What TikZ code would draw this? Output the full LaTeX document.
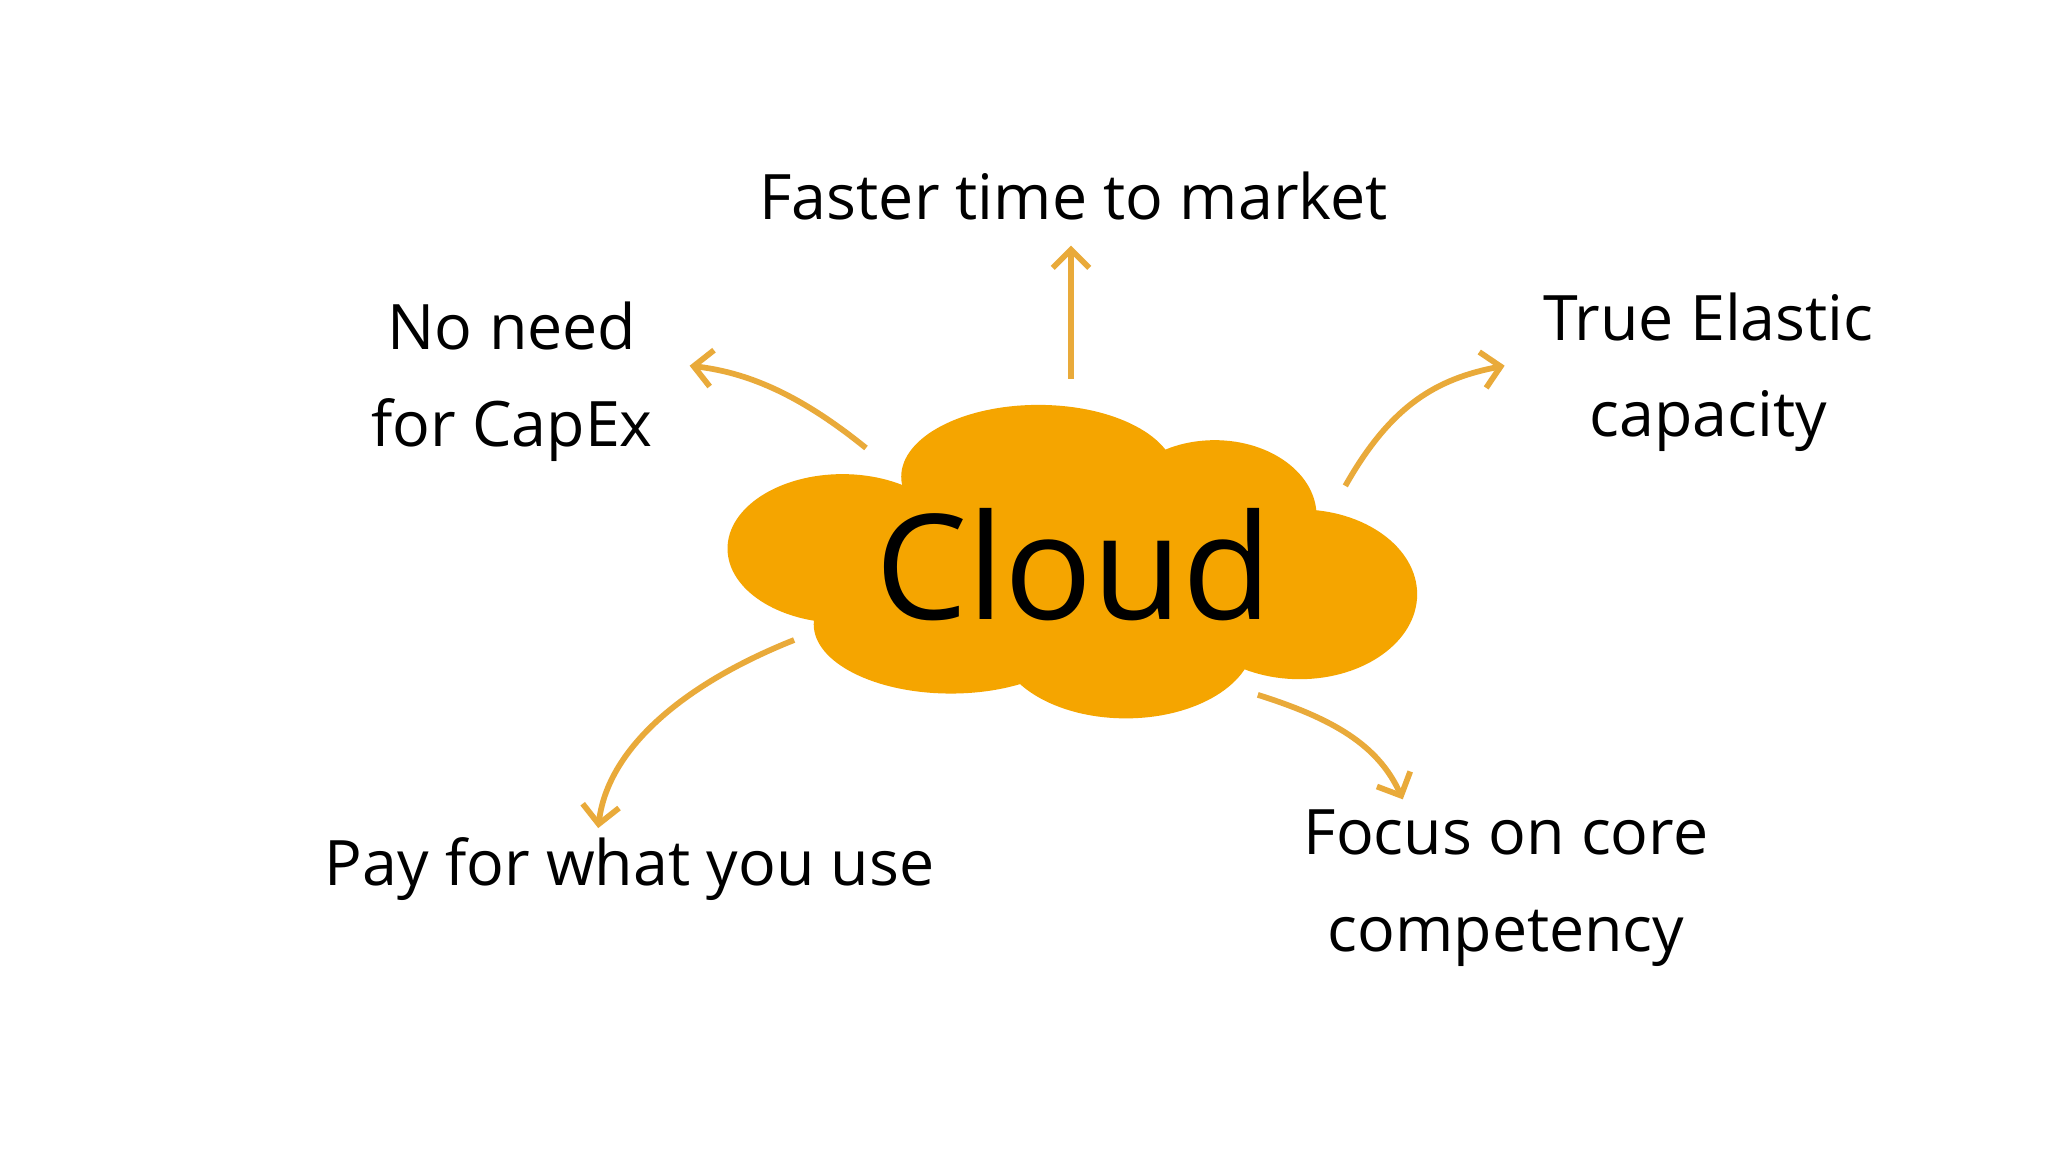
\documentclass[tikz,border=0pt]{standalone}
\usepackage{fontspec}
\setmainfont{Open Sans}
\usetikzlibrary{arrows.meta}
\definecolor{cloudor}{HTML}{F5A500}
\definecolor{arrowor}{HTML}{E9AA3A}
\begin{document}
\begin{tikzpicture}[x=0.5pt,y=-0.5pt,
  lbl/.style={font=\fontsize{24}{37}\selectfont, align=center, text=black},
  arr/.style={draw=arrowor, line width=2.2pt, -{Straight Barb[length=7pt,width=14pt,line width=2.2pt]}}]
\useasboundingbox[fill=white] (0,0) rectangle (1568,882);
% cloud
\begin{scope}[fill=cloudor]
\fill (645,420) ellipse [x radius=88, y radius=57];
\fill (795,365) ellipse [x radius=105, y radius=55];
\fill (930,395) ellipse [x radius=78, y radius=58];
\fill (995,455) ellipse [x radius=90, y radius=65];
\fill (862,490) ellipse [x radius=98, y radius=60];
\fill (728,478) ellipse [x radius=105, y radius=53];
\fill (820,440) ellipse [x radius=190, y radius=70];
\end{scope}
\node[font=\fontsize{56}{60}\selectfont] (cloud) at (822,432) {Cloud};
% labels
\node[lbl] (top) at (822,150) {Faster time to market};
\node[lbl] (capex) at (392,292) {No need\\for CapEx};
\node[lbl] (elastic) at (1308,285) {True Elastic\\capacity};
\node[lbl] (pay) at (482,665) {Pay for what you use};
\node[lbl] (focus) at (1153,680) {Focus on core\\competency};
% arrow anchors
\coordinate (a1) at (820,290); \coordinate (b1) at (820,188);
\coordinate (a2) at (663,343); \coordinate (b2) at (528,280);
\coordinate (a3) at (1030,372); \coordinate (b3) at (1152,280);
\coordinate (a4) at (608,490); \coordinate (b4) at (458,634);
\coordinate (a5) at (963,532); \coordinate (b5) at (1074,612);
\draw[arr] (a1) -- (b1);
\draw[arr] (a2) .. controls (610,300) and (570,285) .. (b2);
\draw[arr] (a3) .. controls (1065,310) and (1100,290) .. (b3);
\draw[arr] (a4) .. controls (520,525) and (465,575) .. (b4);
\draw[arr] (a5) .. controls (1020,550) and (1055,570) .. (b5);
\end{tikzpicture}
\end{document}
